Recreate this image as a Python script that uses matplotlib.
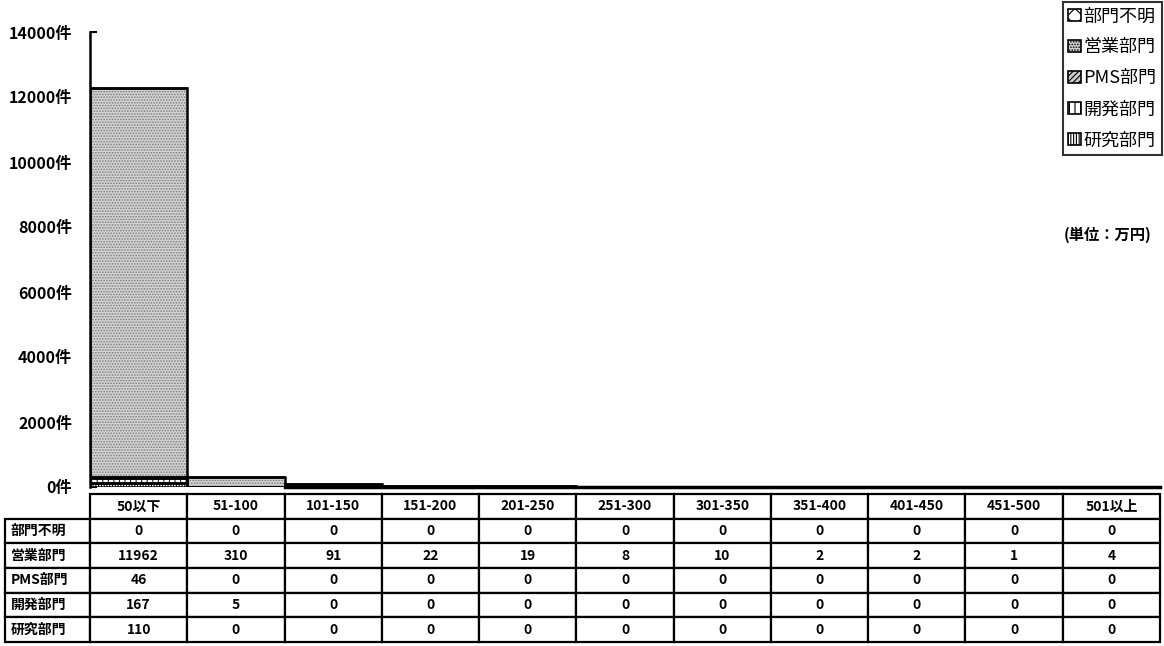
import matplotlib
matplotlib.use("Agg")
import matplotlib.pyplot as plt
from matplotlib.patches import Patch
import numpy as np

plt.rcParams['font.family'] = ['Noto Sans CJK JP', 'DejaVu Sans']
plt.rcParams['hatch.linewidth'] = 0.8

categories = ["50以下", "51-100", "101-150", "151-200", "201-250", "251-300",
              "301-350", "351-400", "401-450", "451-500", "501以上"]
series_names = ["部門不明", "営業部門", "PMS部門", "開発部門", "研究部門"]
unknown = [0, 0, 0, 0, 0, 0, 0, 0, 0, 0, 0]
sales = [11962, 310, 91, 22, 19, 8, 10, 2, 2, 1, 4]
pms = [46, 0, 0, 0, 0, 0, 0, 0, 0, 0, 0]
dev = [167, 5, 0, 0, 0, 0, 0, 0, 0, 0, 0]
research = [110, 0, 0, 0, 0, 0, 0, 0, 0, 0, 0]
yticks = [0, 2000, 4000, 6000, 8000, 10000, 12000, 14000]
ytick_labels = [f"{v}件" for v in yticks]
table_row_labels = ["部門不明", "営業部門", "PMS部門", "開発部門", "研究部門"]

series_values = {"部門不明": unknown, "営業部門": sales, "PMS部門": pms,
                 "開発部門": dev, "研究部門": research}
styles = {
    "研究部門": dict(face="white", hatch="||||||", hcol="black"),
    "開発部門": dict(face="white", hatch="|||", hcol="#222222"),
    "PMS部門": dict(face="#cccccc", hatch="//////", hcol="#333333"),
    "営業部門": dict(face="#d4d4d4", hatch="......", hcol="#7a7a7a"),
    "部門不明": dict(face="white", hatch="xx", hcol="#555555"),
}

W, H = 1164, 646
fig = plt.figure(figsize=(W / 100, H / 100), dpi=100)
ax_l, ax_r, ax_b, ax_t = 90, 1160, 487, 32
ax = fig.add_axes([ax_l / W, 1 - ax_b / H, (ax_r - ax_l) / W, (ax_b - ax_t) / H])

x = np.arange(len(categories))
bottom = np.zeros(len(categories))
stack_order = ["研究部門", "開発部門", "PMS部門", "営業部門", "部門不明"]
for name in stack_order:
    vals = np.array(series_values[name], dtype=float)
    st = styles[name]
    ax.bar(x, vals, width=1.0, bottom=bottom, color=st["face"], hatch=st["hatch"],
           edgecolor=st["hcol"], linewidth=0, zorder=2)
    ax.bar(x, vals, width=1.0, bottom=bottom, color="none",
           edgecolor="black", linewidth=1.8, zorder=3)
    bottom += vals

ax.set_xlim(-0.5, len(categories) - 0.5)
ax.set_ylim(0, 14000)
ax.set_yticks(yticks)
ax.set_yticklabels(ytick_labels, fontsize=11.5, fontweight="bold")
ax.tick_params(axis="y", direction="in", length=5, width=1.5, pad=13)
ax.set_xticks([])
for s in ["top", "right"]:
    ax.spines[s].set_visible(False)
ax.spines["bottom"].set_bounds(1.5, len(categories) - 0.5)
ax.spines["bottom"].set_linewidth(2.5)
ax.spines["left"].set_linewidth(1.8)
ax.patch.set_visible(False)

# data table
cell_text = []
for lab in table_row_labels:
    cell_text.append([lab] + [str(v) for v in series_values[lab]])
col_labels = [""] + categories
label_w = 85
col_w = (ax_r - ax_l) / len(categories)
widths = [label_w] + [col_w] * len(categories)
tbl_top, tbl_bot = 494, 642
ax_h = ax_b - ax_t
ax_w = ax_r - ax_l
bbox = [(5 - ax_l) / ax_w, (ax_b - tbl_bot) / ax_h,
        (ax_r - 5) / ax_w, (tbl_bot - tbl_top) / ax_h]
tbl = ax.table(cellText=cell_text, colLabels=col_labels, colWidths=widths,
               cellLoc="center", bbox=bbox)
tbl.auto_set_font_size(False)
tbl.set_fontsize(10)
for (r, c), cell in tbl.get_celld().items():
    cell.set_linewidth(1.6)
    cell.set_edgecolor("black")
    cell.get_text().set_fontweight("bold")
    if r == 0 and c == 0:
        cell.visible_edges = ""
    if c == 0 and r > 0:
        cell._loc = "left"
        cell.PAD = 0.07
        cell.get_text().set_horizontalalignment("left")

# legend
handles = []
for name in series_names:
    st = styles[name]
    handles.append(Patch(facecolor=st["face"], hatch=st["hatch"], edgecolor="black",
                         linewidth=1.2, label=name))
leg = fig.legend(handles=handles, loc="upper right",
                 bbox_to_anchor=(1162 / W, 1 - 2 / H), fontsize=13,
                 frameon=True, fancybox=False, edgecolor="black",
                 handlelength=0.7, handleheight=0.7, handletextpad=0.15,
                 labelspacing=0.72, borderpad=0.3, borderaxespad=0)
leg.get_frame().set_linewidth(1.5)

fig.text(1108 / W, 1 - 235 / H, "(単位：万円)", fontsize=11, fontweight="bold",
         ha="center", va="center")

fig.savefig("out.png", dpi=100)
